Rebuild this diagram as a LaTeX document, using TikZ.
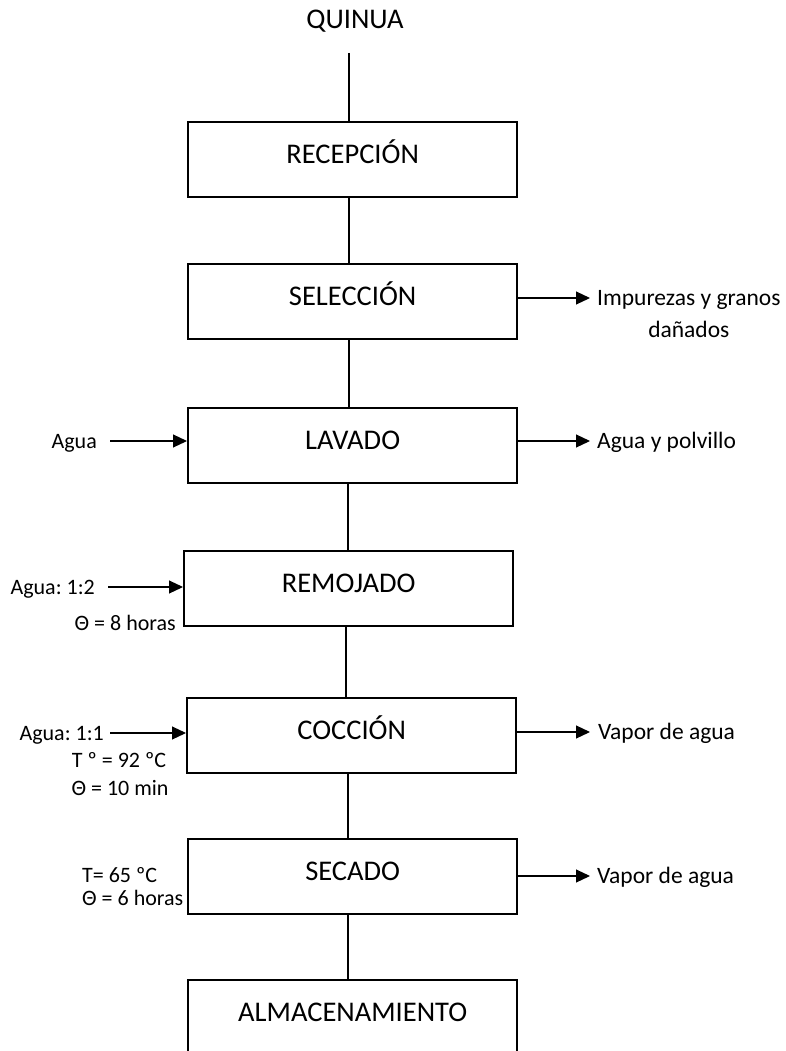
\documentclass[tikz,border=0pt]{standalone}
\usepackage{fontspec}
\setmainfont{Carlito}
\usetikzlibrary{arrows.meta}
\frenchspacing
\begin{document}
\begin{tikzpicture}[x=1pt,y=-1pt,
  stage/.style={draw,line width=2.3pt,minimum width=329pt,minimum height=75pt,inner sep=0pt,anchor=north west,font=\fontsize{28.5}{30}\selectfont,text height=20pt,text depth=12pt},
  flow/.style={line width=1.1pt},
  arr/.style={line width=1.1pt,-{Triangle[length=14pt,width=13pt]}},
  rlab/.style={inner sep=0pt,font=\fontsize{23.5}{32}\selectfont},
  llab/.style={inner sep=0pt,font=\fontsize{22}{25}\selectfont}]
\useasboundingbox (0,0) rectangle (786,1051);
\fill[white] (0,0) rectangle (786,1051);

% title
\node[inner sep=0pt,anchor=base,font=\fontsize{28.5}{30}\selectfont] (q) at (355,29) {QUINUA};

% stages
\node[stage] (rec) at (187,121) {RECEPCIÓN};
\node[stage] (sel) at (187,263) {SELECCIÓN};
\node[stage] (lav) at (187,407) {LAVADO};
\node[stage] (rem) at (183,550) {REMOJADO};
\node[stage] (coc) at (186,697) {COCCIÓN};
\node[stage] (sec) at (187,838) {SECADO};
\node[stage] (alm) at (187,979) {ALMACENAMIENTO};

% vertical connectors
\coordinate (qs) at (349,53);
\coordinate (c1) at (349,0);
\coordinate (c2) at (348,0);
\coordinate (c3) at (346,0);
\draw[flow] (qs) -- (qs |- rec.north);
\draw[flow] (rec.south -| c1) -- (sel.north -| c1);
\draw[flow] (sel.south -| c1) -- (lav.north -| c1);
\draw[flow] (lav.south -| c2) -- (rem.north -| c2);
\draw[flow] (rem.south -| c3) -- (coc.north -| c3);
\draw[flow] (coc.south -| c2) -- (sec.north -| c2);
\draw[flow] (sec.south -| c2) -- (alm.north -| c2);

% outputs (right)
\coordinate (o1) at (590,298);
\coordinate (o2) at (590,441);
\coordinate (o3) at (590,732);
\coordinate (o4) at (590,876);
\draw[arr] (sel.east |- o1) -- (o1);
\draw[arr] (lav.east |- o2) -- (o2);
\draw[arr] (coc.east |- o3) -- (o3);
\draw[arr] (sec.east |- o4) -- (o4);
\node[rlab,anchor=base west,align=center] (r1) at (597,337) {Impurezas y granos\\dañados};
\node[rlab,anchor=base west] (r2) at (597,448) {Agua y polvillo};
\node[rlab,anchor=base west] (r3) at (598,739) {Vapor de agua};
\node[rlab,anchor=base west] (r4) at (597,883) {Vapor de agua};

% inputs (left)
\node[llab,anchor=base east] (a1) at (97,448) {Agua};
\coordinate (i1) at (110,441);
\draw[arr] (i1) -- (i1 -| lav.west);

\node[llab,anchor=base east] (a2) at (95,594) {Agua: 1:2};
\coordinate (i2) at (108,587);
\draw[arr] (i2) -- (i2 -| rem.west);
\node[llab,anchor=base east] (t2) at (176,630) {Θ = 8 horas};

\node[llab,anchor=base east] (a3) at (104,740) {Agua: 1:1};
\coordinate (i3) at (110,733);
\draw[arr] (i3) -- (i3 -| coc.west);
\node[llab,anchor=base] (t3a) at (119,767) {T º = 92 ºC};
\node[llab,anchor=base] (t3b) at (120,795) {Θ = 10 min};

\node[llab,anchor=base west] (t4a) at (82,882) {T= 65 ºC};
\node[llab,anchor=base west] (t4b) at (82,905) {Θ = 6 horas};
\end{tikzpicture}
\end{document}
